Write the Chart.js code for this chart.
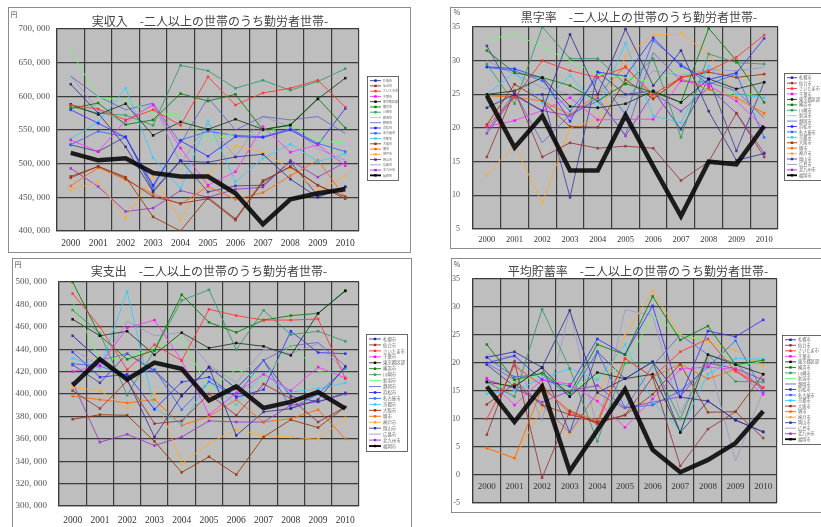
<!DOCTYPE html>
<html lang="ja">
<head>
<meta charset="utf-8">
<title>政令指定都市の家計 -二人以上の世帯のうち勤労者世帯-</title>
<script src="https://cdn.jsdelivr.net/npm/chart.js@4.4.1/dist/chart.umd.min.js"></script>
<style>
body { margin: 0; background: #fff; width: 821px; height: 527px; overflow: hidden; position: relative; }
.panel { position: absolute; border: 1px solid #8c8c8c; background: #fff; }
.panel canvas { display: block; }
</style>
</head>
<body>
<div class="panel" style="left:8px;top:7px;"><canvas id="c1" width="401" height="244"></canvas></div>
<div class="panel" style="left:450px;top:7px;"><canvas id="c2" width="378" height="240"></canvas></div>
<div class="panel" style="left:12px;top:258px;"><canvas id="c3" width="398" height="275"></canvas></div>
<div class="panel" style="left:451px;top:258px;"><canvas id="c4" width="377" height="253"></canvas></div>
<script>
var years = ['2000', '2001', '2002', '2003', '2004', '2005', '2006', '2007', '2008', '2009', '2010'];
var cities = ['札幌市', '仙台市', 'さいたま市', '千葉市', '東京都区部', '横浜市', '川崎市', '新潟市', '静岡市', '浜松市',
              '名古屋市', '京都市', '大阪市', '堺市', '神戸市', '岡山市', '広島市', '北九州市', '福岡市'];

// 実収入（円）
var jitsuShunyu = [
  [618000, 575000, 525000, 458000, 504000, 502000, 510000, 514000, 477000, 450000, 466000],
  [479000, 496000, 478000, 451000, 441000, 448000, 416000, 473000, 496000, 468000, 451000],
  [587000, 581000, 565000, 580000, 557000, 629000, 587000, 605000, 612000, 624000, 584000],
  [535000, 518000, 564000, 587000, 523000, 468000, 488000, 555000, 517000, 528000, 497000],
  [588000, 573000, 589000, 542000, 562000, 551000, 566000, 551000, 557000, 596000, 627000],
  [582000, 590000, 558000, 565000, 604000, 593000, 603000, 550000, 558000, 597000, 553000],
  [585000, 575000, 572000, 557000, 646000, 638000, 612000, 624000, 609000, 622000, 641000],
  [668000, 598000, 595000, 575000, 572000, 535000, 545000, 545000, 560000, 535000, 530000],
  [630000, 600000, 580000, 590000, 530000, 598000, 550000, 570000, 565000, 570000, 545000],
  [580000, 560000, 539000, 468000, 534000, 511000, 540000, 539000, 550000, 528000, 582000],
  [528000, 548000, 540000, 465000, 535000, 548000, 542000, 540000, 552000, 530000, 518000],
  [537000, 562000, 612000, 509000, 463000, 564000, 473000, 508000, 529000, 503000, 515000],
  [481000, 496000, 480000, 421000, 400000, 450000, 418000, 475000, 495000, 468000, 448000],
  [467000, 494000, 476000, 455000, 440000, 466000, 447000, 457000, 482000, 505000, 450000],
  [461000, 473000, 419000, 481000, 416000, 484000, 527000, 516000, 493000, 460000, 482000],
  [528000, 518000, 540000, 460000, 505000, 458000, 467000, 468000, 503000, 452000, 465000],
  [630000, 580000, 560000, 590000, 500000, 560000, 510000, 570000, 555000, 522000, 505000],
  [493000, 466000, 429000, 434000, 460000, 450000, 462000, 465000, 505000, 480000, 502000],
  [516000, 505000, 508000, 486000, 481000, 481000, 456000, 410000, 447000, 456000, 462000]
];

// 黒字率（％）
var kurojiRitsu = [
  [23.0, 25.0, 22.5, 33.9, 25.0, 34.7, 26.3, 31.5, 22.5, 15.2, 16.2],
  [15.7, 25.5, 15.7, 17.8, 17.0, 17.3, 17.0, 12.2, 15.0, 22.2, 15.7],
  [20.3, 24.5, 30.0, 28.5, 27.5, 29.0, 25.0, 27.5, 28.5, 30.5, 33.8],
  [20.2, 21.1, 22.6, 24.5, 21.2, 21.3, 21.3, 27.0, 26.3, 24.0, 20.0],
  [25.0, 25.5, 27.5, 23.2, 23.0, 23.6, 25.5, 23.8, 27.3, 25.8, 26.8],
  [31.5, 28.2, 27.5, 26.3, 24.0, 26.6, 25.3, 23.8, 34.8, 30.0, 23.8],
  [29.5, 23.6, 35.0, 30.3, 30.3, 26.5, 30.3, 18.6, 31.0, 29.7, 29.5],
  [33.0, 34.0, 32.0, 30.0, 28.0, 27.5, 26.8, 28.8, 25.5, 24.8, 25.2],
  [19.5, 25.3, 17.8, 22.0, 24.0, 19.0, 31.2, 27.0, 26.8, 25.5, 21.5],
  [29.1, 28.8, 27.4, 21.0, 28.3, 27.7, 33.4, 29.2, 27.2, 28.2, 33.3],
  [29.0, 28.5, 27.0, 22.5, 27.5, 22.0, 33.0, 29.5, 26.5, 28.0, 18.6],
  [25.0, 28.3, 23.7, 27.8, 23.0, 32.6, 21.8, 20.8, 29.2, 25.0, 24.5],
  [20.5, 26.5, 24.0, 20.2, 20.1, 27.2, 24.3, 27.5, 28.3, 27.5, 28.0],
  [24.8, 24.6, 24.0, 22.0, 25.0, 29.2, 24.5, 27.3, 25.7, 24.5, 22.2],
  [13.0, 17.5, 8.8, 20.0, 21.3, 30.6, 33.8, 34.1, 31.0, 24.5, 22.0],
  [32.2, 24.9, 25.0, 9.7, 28.3, 25.0, 25.5, 19.8, 27.3, 16.6, 26.8],
  [30.0, 28.0, 26.0, 25.0, 25.5, 24.5, 28.5, 27.8, 28.7, 28.5, 29.0],
  [19.2, 24.8, 22.6, 21.8, 24.5, 18.8, 25.2, 22.5, 26.0, 22.2, 16.3],
  [24.8, 17.1, 21.8, 13.7, 13.7, 21.9, 14.3, 6.9, 15.0, 14.6, 20.3]
];

// 実支出（円）
var jitsuShishutsu = [
  [452000, 430000, 413000, 361600, 398800, 424000, 363000, 384000, 387000, 395000, 424700],
  [403000, 387000, 411600, 373500, 376000, 400000, 381000, 409000, 395800, 375000, 388400],
  [489600, 460000, 421700, 444000, 429800, 475600, 470000, 466000, 466000, 467000, 413700],
  [420000, 425600, 459000, 466000, 429800, 381500, 401000, 417600, 403000, 424000, 414300],
  [466700, 452000, 456000, 435000, 454800, 441000, 445500, 442600, 434500, 472000, 492000],
  [500000, 452000, 431000, 439000, 488700, 464000, 455000, 466000, 470000, 472000, 492600],
  [475000, 454000, 399000, 439000, 483600, 493000, 439600, 474700, 453000, 456000, 447000],
  [482000, 430000, 433000, 440000, 450000, 404000, 422000, 412000, 445000, 420000, 418000],
  [452000, 430000, 436000, 420000, 398000, 424000, 405000, 430000, 443000, 446000, 425000],
  [437500, 415000, 417600, 386300, 410700, 415000, 397000, 404000, 456000, 437000, 436000],
  [427000, 425000, 416000, 422000, 386000, 411000, 398000, 430000, 387000, 400000, 423000],
  [432000, 423000, 491700, 387000, 373500, 411000, 390500, 418000, 401800, 404800, 410000],
  [377400, 381500, 381000, 357700, 330000, 344000, 328000, 361600, 377000, 370000, 388400],
  [398000, 395000, 392000, 395000, 372000, 380000, 395000, 375000, 378000, 386000, 360000],
  [406000, 403000, 387000, 401000, 337800, 355600, 368500, 363000, 361600, 359500, 378600],
  [426000, 410000, 436000, 421000, 398000, 424000, 405000, 430000, 398000, 393000, 401000],
  [440000, 425000, 465000, 452000, 455000, 426000, 410000, 440000, 436000, 445000, 420000],
  [410000, 357000, 364000, 354000, 361600, 376000, 375000, 375000, 390000, 393000, 400000],
  [407700, 431000, 413000, 428000, 422600, 394300, 406800, 387500, 392900, 401800, 386900]
];

// 平均貯蓄率（％）
var chochikuRitsu = [
  [21.0, 22.0, 19.2, 29.4, 14.7, 17.2, 20.2, 13.9, 13.2, 9.8, 7.7],
  [7.2, 20.3, -0.5, 11.4, 9.2, 10.7, 17.5, 1.6, 8.2, 11.3, 6.6],
  [10.0, 19.5, 16.0, 11.0, 9.2, 20.8, 17.5, 22.0, 24.3, 18.5, 15.6],
  [17.3, 12.5, 17.0, 16.2, 13.2, 8.5, 13.6, 18.9, 19.3, 18.8, 14.4],
  [16.6, 15.8, 19.2, 14.0, 18.3, 17.2, 18.0, 7.6, 21.5, 19.7, 18.0],
  [23.3, 17.0, 18.2, 14.6, 23.3, 21.5, 31.9, 24.1, 26.6, 19.7, 20.5],
  [16.6, 14.0, 29.6, 19.0, 6.0, 20.0, 20.0, 10.0, 21.5, 16.7, 16.6],
  [15.0, 16.5, 18.0, 15.5, 17.5, 19.5, 28.5, 25.0, 24.0, 19.5, 20.3],
  [20.0, 17.0, 12.5, 7.6, 14.7, 11.8, 19.5, 25.0, 21.5, 20.0, 15.0],
  [20.0, 21.3, 17.0, 15.8, 24.3, 21.5, 30.2, 13.9, 25.7, 24.7, 27.7],
  [21.0, 17.5, 18.0, 14.0, 22.0, 12.0, 12.5, 15.0, 19.3, 24.0, 14.8],
  [14.5, 15.0, 17.3, 19.0, 17.0, 23.3, 13.0, 8.0, 18.0, 20.8, 20.7],
  [12.6, 16.3, 12.5, 10.8, 9.5, 10.7, 14.4, 19.8, 11.2, 11.3, 18.0],
  [4.8, 3.0, 15.5, 11.5, 9.7, 20.8, 17.5, 19.8, 17.2, 18.8, 15.6],
  [4.8, 3.0, 12.0, 7.2, 14.0, 24.9, 32.9, 25.0, 23.8, 22.2, 19.5],
  [19.7, 15.8, 19.2, 7.6, 22.0, 17.2, 20.2, 7.6, 13.2, 9.8, 7.7],
  [21.5, 21.0, 9.7, 29.4, 8.0, 29.5, 28.5, 11.0, 21.0, 2.5, 15.0],
  [17.0, 15.5, 13.0, 15.0, 16.0, 12.0, 13.0, 14.0, 20.0, 19.0, 17.0],
  [15.8, 9.5, 15.8, 0.7, 8.0, 15.3, 4.5, 0.5, 2.7, 5.7, 11.4]
];

var incomeTicks = [400000, 700000, 50000];
var surplusTicks = [5, 35, 5];
var spendTicks = [300000, 500000, 20000];
var savingTicks = [-5, 35, 5];

// series styling
var lineColors = ['#333399', '#993333', '#ff3333', '#ff33ff', '#1f3a1f', '#008000', '#339966', '#66ff66', '#6666cc', '#3333ff',
                  '#3366ff', '#33ccff', '#993300', '#ff6600', '#ffaa33', '#4040a0', '#9999cc', '#9933cc', '#000000'];
var markerColors = ['#222288', '#993333', '#ff3333', '#ff00ff', '#000000', '#008000', '#339966', '#66ff66', '#6666cc', '#2222ff',
                    '#3366ff', '#33ccff', '#993300', '#ff6600', '#ffaa33', '#333399', '#9999cc', '#9933cc', '#000000'];
var markerOn = [1, 1, 1, 1, 1, 1, 1, 0, 0, 1, 1, 1, 1, 1, 1, 1, 0, 1, 0];

var gridColor = '#3c3c3c';
var serif = "'Liberation Serif', 'DejaVu Serif', serif";
var jp = "'Noto Sans CJK JP', sans-serif";

function yenLabel(v) {
  return v.toLocaleString('en-US').replace(',', ', ');
}

function buildPanel(id, rows, tk, fmt, g) {
  var n = cities.length;
  var datasets = rows.map(function(r, i) {
    var last = i === n - 1;
    return {
      label: cities[i],
      data: r,
      borderColor: lineColors[i],
      backgroundColor: markerColors[i],
      borderWidth: last ? 4.5 : 1,
      pointRadius: last ? 0 : (markerOn[i] ? 1.8 : 0),
      pointStyle: 'rect',
      pointBorderWidth: 0,
      tension: 0,
      order: last ? 0 : 1
    };
  });

  var decor = {
    id: 'decor' + id,
    beforeDraw: function(chart) {
      var a = chart.chartArea, ctx = chart.ctx;
      ctx.save();
      ctx.fillStyle = '#bebebe';
      ctx.fillRect(a.left, a.top, a.right - a.left, a.bottom - a.top);
      ctx.restore();
    },
    beforeDatasetsDraw: function(chart) {
      chart.ctx.save();
      chart.ctx.globalAlpha = 0.85;
    },
    afterDatasetsDraw: function(chart) {
      chart.ctx.restore();
    },
    afterDraw: function(chart) {
      var ctx = chart.ctx;
      ctx.save();
      ctx.fillStyle = '#444';
      ctx.textAlign = 'center';
      ctx.textBaseline = 'middle';
      ctx.font = '12px ' + jp;
      ctx.fillText(g.title, g.titleX, g.titleY);
      ctx.font = '7px ' + jp;
      ctx.fillStyle = '#555';
      ctx.fillText(g.unit, g.unitX, g.unitY);

      // year labels sitting on the zero line
      if (g.xAtZero) {
        var xs = chart.scales.x, y0 = chart.scales.y.getPixelForValue(0);
        ctx.font = g.xFont + 'px ' + serif;
        ctx.fillStyle = '#333';
        years.forEach(function(lab, i) {
          ctx.fillText(lab, xs.getPixelForTick(i), y0 + g.xPad);
        });
      }

      // legend box
      var L = g.legend;
      ctx.fillStyle = '#fff';
      ctx.fillRect(L.x, L.y, L.w, L.h);
      ctx.strokeStyle = '#444';
      ctx.lineWidth = 0.8;
      ctx.strokeRect(L.x + 0.5, L.y + 0.5, L.w, L.h);
      var rh = (L.h - 4) / n;
      ctx.font = L.font + 'px ' + jp;
      ctx.textAlign = 'left';
      chart.data.datasets.forEach(function(d, i) {
        var cy = L.y + 2 + rh * (i + 0.5);
        ctx.strokeStyle = d.borderColor;
        ctx.lineWidth = i === n - 1 ? 1.8 : 0.9;
        ctx.beginPath();
        ctx.moveTo(L.x + 3, cy);
        ctx.lineTo(L.x + 3 + L.line, cy);
        ctx.stroke();
        if (d.pointRadius > 0 || i === n - 1) {
          ctx.fillStyle = d.backgroundColor;
          ctx.fillRect(L.x + 3 + L.line / 2 - 1.2, cy - 1.2, 2.4, 2.4);
        }
        ctx.fillStyle = '#666';
        ctx.fillText(d.label, L.x + 5 + L.line, cy);
      });
      ctx.restore();
    }
  };

  var el = document.getElementById(id);
  return new Chart(el, {
    type: 'line',
    data: { labels: years, datasets: datasets },
    options: {
      responsive: false,
      animation: false,
      layout: {
        autoPadding: false,
        padding: { top: g.area.top, right: el.width - g.area.right, left: 0, bottom: 0 }
      },
      plugins: {
        legend: { display: false },
        title: { display: false },
        tooltip: { enabled: false }
      },
      scales: {
        x: {
          position: 'bottom',
          offset: true,
          grid: { offset: true, color: gridColor, lineWidth: 1.2, drawTicks: false },
          border: { color: gridColor, width: 1.2 },
          ticks: {
            display: !g.xAtZero,
            font: { family: serif, size: g.xFont },
            color: '#333',
            padding: g.xPad,
            maxRotation: 0,
            autoSkip: false
          },
          afterFit: function(s) {
            s.height = el.height - g.area.bottom;
            s.paddingLeft = 0;
            s.paddingRight = 0;
          }
        },
        y: {
          min: tk[0],
          max: tk[1],
          grid: { color: gridColor, lineWidth: 1.2, drawTicks: false },
          border: { color: gridColor, width: 1.2 },
          ticks: {
            stepSize: tk[2],
            font: { family: serif, size: g.yFont },
            color: '#555',
            padding: g.yPad,
            callback: fmt
          },
          afterFit: function(s) {
            // the label padding must not push the plot area in
            s.width = g.area.left;
            s.paddingTop = 0;
            s.paddingBottom = 0;
          }
        }
      }
    },
    plugins: [decor]
  });
}

buildPanel('c1', jitsuShunyu, incomeTicks, yenLabel, {
  area: { left: 48, top: 21, right: 350, bottom: 223 },
  title: '実収入　-二人以上の世帯のうち勤労者世帯-', titleX: 201, titleY: 13,
  unit: '円', unitX: 5, unitY: 6,
  legend: { x: 358, y: 68, w: 31, h: 104, font: 3, line: 11 },
  xFont: 9.5, yFont: 9, xPad: 7, yPad: 7
});

buildPanel('c2', kurojiRitsu, surplusTicks, function(v) { return v; }, {
  area: { left: 22, top: 19, right: 327, bottom: 221 },
  title: '黒字率　-二人以上の世帯のうち勤労者世帯-', titleX: 188, titleY: 9,
  unit: '%', unitX: 6, unitY: 4,
  legend: { x: 333, y: 65, w: 40, h: 107, font: 4.2, line: 10 },
  xFont: 8.5, yFont: 8, xPad: 6, yPad: 13
});

buildPanel('c3', jitsuShishutsu, spendTicks, yenLabel, {
  area: { left: 46, top: 23, right: 346, bottom: 247 },
  title: '実支出　-二人以上の世帯のうち勤労者世帯-', titleX: 196, titleY: 12,
  unit: '円', unitX: 5, unitY: 5,
  legend: { x: 353, y: 75, w: 41, h: 117, font: 4.4, line: 12 },
  xFont: 9.5, yFont: 9, xPad: 9, yPad: 12
});

buildPanel('c4', chochikuRitsu, savingTicks, function(v) { return v; }, {
  area: { left: 21, top: 20, right: 325, bottom: 244 },
  title: '平均貯蓄率　-二人以上の世帯のうち勤労者世帯-', titleX: 186, titleY: 12,
  unit: '%', unitX: 5, unitY: 5,
  legend: { x: 330, y: 76, w: 44, h: 109, font: 4.2, line: 11 },
  xAtZero: true,
  xFont: 9, yFont: 8, xPad: 12, yPad: 13
});
</script>
</body>
</html>
